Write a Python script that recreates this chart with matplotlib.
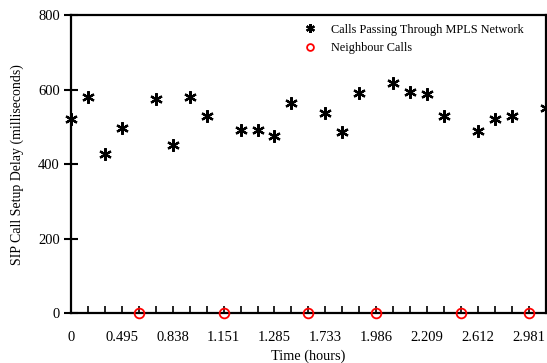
import matplotlib
matplotlib.use("Agg")
import matplotlib.pyplot as plt

plt.rcParams['font.family'] = ['Liberation Serif', 'DejaVu Serif']

# sample index along the time axis
mpls_idx = [0, 1, 2, 3, 5, 6, 7, 8, 10, 11, 12, 13, 15, 16, 17, 19, 20, 21, 22, 24, 25, 26, 28]
mpls_delay = [521, 581, 426, 496, 575, 450, 580, 530, 492, 492, 476, 565, 538, 485, 590,
              618, 594, 587, 529, 490, 520, 529, 550]
neigh_idx = [4, 9, 14, 18, 23, 27]
neigh_delay = [0, 0, 0, 0, 0, 0]
time_labels = ["0", "0.495", "0.838", "1.151", "1.285", "1.733", "1.986", "2.209", "2.612", "2.981"]
yticks = [0, 200, 400, 600, 800]

fig = plt.figure(figsize=(5.47, 3.63), dpi=100)
ax = fig.add_axes([0.1298, 0.137, 0.868, 0.8217])

ax.plot(mpls_idx, mpls_delay, linestyle='none', marker=(6, 2, 0), markersize=9,
        markeredgewidth=1.6, color='black', label='Calls Passing Through MPLS Network',
        clip_on=False, zorder=4)
ax.plot(neigh_idx, neigh_delay, linestyle='none', marker='o', markersize=7,
        markerfacecolor='none', markeredgecolor='red', markeredgewidth=1.3,
        label='Neighbour Calls', clip_on=False, zorder=5)

ax.set_xlim(0, 28)
ax.set_ylim(0, 800)
ax.set_xticks(range(0, 29))
ax.set_xticklabels([time_labels[i // 3] if i % 3 == 0 and i // 3 < len(time_labels) else ''
                    for i in range(29)])
ax.set_yticks(yticks)
ax.tick_params(axis='x', direction='in', length=5, width=1.2, pad=13, labelsize=10.5)
ax.tick_params(axis='y', direction='inout', length=10, width=1.5, pad=3, labelsize=10.5)
for s in ax.spines.values():
    s.set_linewidth(1.6)

ax.set_xlabel('Time (hours)', fontsize=10.3, labelpad=4)
ax.set_ylabel('SIP Call Setup Delay (milliseconds)', fontsize=10, labelpad=10)

leg = ax.legend(loc='upper right', frameon=False, fontsize=8.8, handletextpad=0.7,
                borderaxespad=0.3, labelspacing=0.55, markerscale=0.7,
                bbox_to_anchor=(0.972, 1.0))

fig.savefig('out.png', dpi=100)
